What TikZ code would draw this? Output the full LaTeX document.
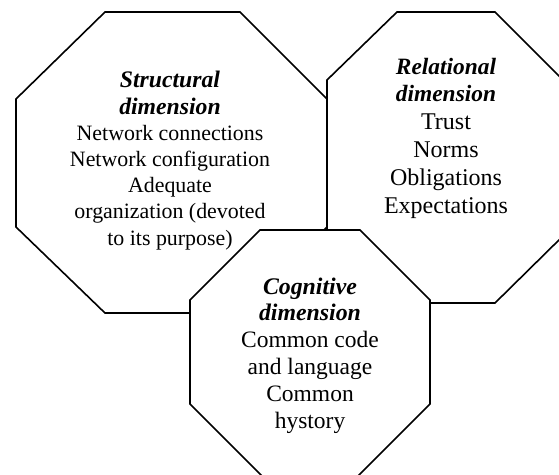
\documentclass[tikz,border=0pt]{standalone}
\usepackage{fontspec}
\setmainfont{Liberation Serif}
\begin{document}
\begin{tikzpicture}[x=1pt,y=-1pt,
  octagon/.style={draw=black,fill=white,line width=1.6pt,line join=miter},
  label/.style={align=center,anchor=base,inner sep=0pt}]
\useasboundingbox (0,0) rectangle (559,474);

% Structural dimension
\draw[octagon] (105,12) -- (240,12) -- (327,99) -- (327,227) -- (240,313)
  -- (105,313) -- (16,227) -- (16,99) -- cycle;
% Relational dimension
\draw[octagon] (397,12) -- (495,12) -- (563,80) -- (563,236) -- (495,303)
  -- (397,303) -- (327,236) -- (327,80) -- cycle;
% Cognitive dimension
\draw[octagon] (260,230) -- (360,230) -- (430,300) -- (430,404) -- (358,476)
  -- (262,476) -- (190,404) -- (190,300) -- cycle;

% labels are placed by the base anchor of each text block
\node[label,font=\fontsize{21.9}{26.2}\selectfont] (structural) at (170,245)
  {{\fontsize{23.7}{26.2}\selectfont\bfseries\itshape Structural}\\
   {\fontsize{23.7}{26.2}\selectfont\bfseries\itshape dimension}\\
   Network connections\\
   Network configuration\hspace{16pt}\\
   Adequate\\
   organization (devoted\\
   to its purpose)};

\node[label,font=\fontsize{24}{27.8}\selectfont] (relational) at (446,213)
  {{\fontsize{23.4}{27.8}\selectfont\bfseries\itshape Relational}\\
   {\fontsize{23.4}{27.8}\selectfont\bfseries\itshape dimension}\\
   Trust\\
   Norms\\
   Obligations\\
   Expectations};

\node[label,font=\fontsize{23.5}{26.8}\selectfont] (cognitive) at (310,428)
  {{\fontsize{23.8}{26.8}\selectfont\bfseries\itshape Cognitive}\\
   {\fontsize{23.8}{26.8}\selectfont\bfseries\itshape dimension}\\
   Common code\\
   and language\\
   Common\\
   hystory};
\end{tikzpicture}
\end{document}
